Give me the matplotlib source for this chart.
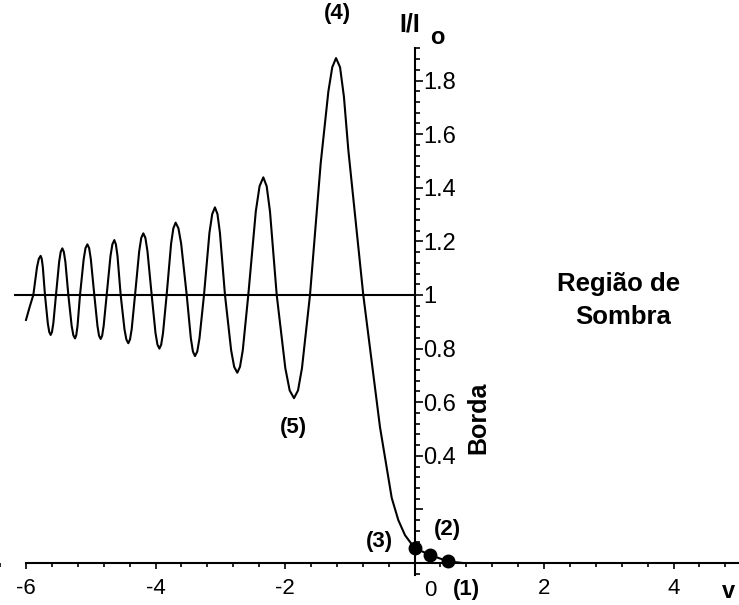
import matplotlib
matplotlib.use('Agg')
import matplotlib.pyplot as plt
from matplotlib import font_manager
from matplotlib.ticker import MultipleLocator

# Intensity curve (v, I/Io), one row per half oscillation
v = [-6.000, -5.944, -5.887, -5.830, -5.802, -5.774, -5.757, -5.740,
     -5.707, -5.663, -5.641, -5.619, -5.599, -5.578,
     -5.537, -5.488, -5.464, -5.439, -5.416, -5.392,
     -5.346, -5.295, -5.269, -5.243, -5.224, -5.204,
     -5.166, -5.109, -5.081, -5.052, -5.025, -4.999,
     -4.945, -4.896, -4.872, -4.847, -4.824, -4.801,
     -4.754, -4.695, -4.666, -4.636, -4.612, -4.587,
     -4.538, -4.479, -4.450, -4.420, -4.394, -4.368,
     -4.316, -4.252, -4.220, -4.188, -4.156, -4.124,
     -4.059, -4.000, -3.970, -3.940, -3.912, -3.884,
     -3.828, -3.759, -3.724, -3.689, -3.646, -3.604,
     -3.518, -3.454, -3.422, -3.390, -3.355, -3.321,
     -3.251, -3.167, -3.124, -3.082, -3.043, -3.005,
     -2.927, -2.832, -2.785, -2.737, -2.695, -2.652,
     -2.567, -2.451, -2.393, -2.335, -2.283, -2.232,
     -2.128, -1.995, -1.928, -1.861, -1.799, -1.738,
     -1.614, -1.449, -1.330, -1.270, -1.212, -1.150, -1.090, -1.022,
     -0.791, -0.533, -0.352, -0.250, -0.147, 0.000, 0.240, 0.520, 0.750]
intensity = [0.907, 0.955, 1.0, 1.104, 1.135, 1.146, 1.135, 1.104,
             1.0, 0.894, 0.862, 0.851, 0.862, 0.894,
             1.0, 1.124, 1.161, 1.174, 1.161, 1.124,
             1.0, 0.885, 0.850, 0.838, 0.850, 0.885,
             1.0, 1.134, 1.175, 1.189, 1.175, 1.134,
             1.0, 0.884, 0.848, 0.836, 0.848, 0.884,
             1.0, 1.146, 1.189, 1.205, 1.189, 1.146,
             1.0, 0.872, 0.834, 0.820, 0.834, 0.872,
             1.0, 1.163, 1.213, 1.230, 1.213, 1.163,
             1.0, 0.858, 0.815, 0.800, 0.815, 0.858,
             1.0, 1.192, 1.249, 1.270, 1.249, 1.192,
             1.0, 0.838, 0.789, 0.772, 0.789, 0.838,
             1.0, 1.232, 1.302, 1.327, 1.302, 1.232,
             1.0, 0.794, 0.732, 0.710, 0.732, 0.794,
             1.0, 1.312, 1.406, 1.439, 1.406, 1.312,
             1.0, 0.727, 0.644, 0.615, 0.644, 0.727,
             1.0, 1.491, 1.760, 1.850, 1.884, 1.850, 1.740, 1.541,
             1.0, 0.507, 0.243, 0.160, 0.104, 0.056, 0.030, 0.006, 0.0]

# marked points (3), (2), (1)
dots_v = [0.0, 0.24, 0.52]
dots_i = [0.056, 0.030, 0.006]

# reference level I/Io = 1
level_v = [-6.17, 0.0]
level_i = [1.0, 1.0]

x_ticks = [-6, -4, -2, 0, 2, 4]
x_tick_labels = ['-6', '-4', '-2', '', '2', '4']
y_ticks = [0.2, 0.4, 0.6, 0.8, 1.0, 1.2, 1.4, 1.6, 1.8]
y_tick_labels = ['', '0.4', '0.6', '0.8', '1', '1.2', '1.4', '1.6', '1.8']

W, H = 739, 605


def at(px, py):
    # pixel position -> figure fraction
    return px / W, 1 - py / H


names = {f.name for f in font_manager.fontManager.ttflist}
if 'Liberation Sans Narrow' in names:
    yfont, ysize = 'Liberation Sans Narrow', 21
else:
    yfont, ysize = 'Liberation Sans', 17

plt.rcParams['font.family'] = ['Liberation Sans', 'DejaVu Sans']

fig = plt.figure(figsize=(W / 100, H / 100), dpi=100)
ax = fig.add_axes([0.1 / W, (H - 575.06) / H, 738.15 / W, 526.62 / H])
ax.set_xlim(-6.4, 5.0)
ax.set_ylim(-0.045, 1.92)

ax.plot(v, intensity, color='black', lw=1.5, zorder=3)
ax.plot(level_v, level_i, color='black', lw=1.5, zorder=3)
ax.plot(dots_v, dots_i, 'o', color='black', markersize=9, zorder=4, clip_on=False)

# axes crossing at the origin
ax.spines['top'].set_visible(False)
ax.spines['left'].set_visible(False)
ax.spines['bottom'].set_position(('data', 0))
ax.spines['right'].set_position(('data', 0))
ax.spines['bottom'].set_bounds(-6, 5.0)
ax.spines['right'].set_bounds(-0.045, 1.92)
for s in ('bottom', 'right'):
    ax.spines[s].set_linewidth(1.5)

ax.set_xticks(x_ticks)
ax.set_xticklabels(x_tick_labels, fontsize=16)
ax.xaxis.set_minor_locator(MultipleLocator(0.4))
ax.tick_params(axis='x', which='major', direction='out', length=4.5, width=1.2, pad=6.5)
ax.tick_params(axis='x', which='minor', direction='out', length=3, width=1.2)

ax.yaxis.set_ticks_position('right')
ax.set_yticks(y_ticks)
ax.set_yticklabels(y_tick_labels, fontsize=ysize, family=yfont)
ax.yaxis.set_minor_locator(MultipleLocator(0.04))
ax.tick_params(axis='y', which='major', direction='out', length=5.5, width=1.2, pad=1,
               labelright=True, labelleft=False)
ax.tick_params(axis='y', which='minor', direction='out', length=3.5, width=1.2)

# labels
bold = dict(fontweight='bold', ha='center', va='center')
fig.text(*at(430, 590), '0', fontsize=16, ha='center', va='center')
fig.text(*at(410, 24), 'I/I', fontsize=18, **bold)
fig.text(*at(437, 38), 'o', fontsize=17, **bold)
fig.text(*at(728, 591), 'v', fontsize=17, **bold)
fig.text(*at(337, 14), '(4)', fontsize=16, **bold)
fig.text(*at(293, 428), '(5)', fontsize=16, **bold)
fig.text(*at(379, 541), '(3)', fontsize=16, **bold)
fig.text(*at(447, 530), '(2)', fontsize=16, **bold)
fig.text(*at(466, 590), '(1)', fontsize=16, **bold)
fig.text(*at(478, 418), 'Borda', fontsize=18, rotation=90, **bold)
fig.text(*at(619, 284), 'Região de', fontsize=18.5, **bold)
fig.text(*at(623, 317), 'Sombra', fontsize=18.5, **bold)

fig.savefig('out.png', dpi=100)
